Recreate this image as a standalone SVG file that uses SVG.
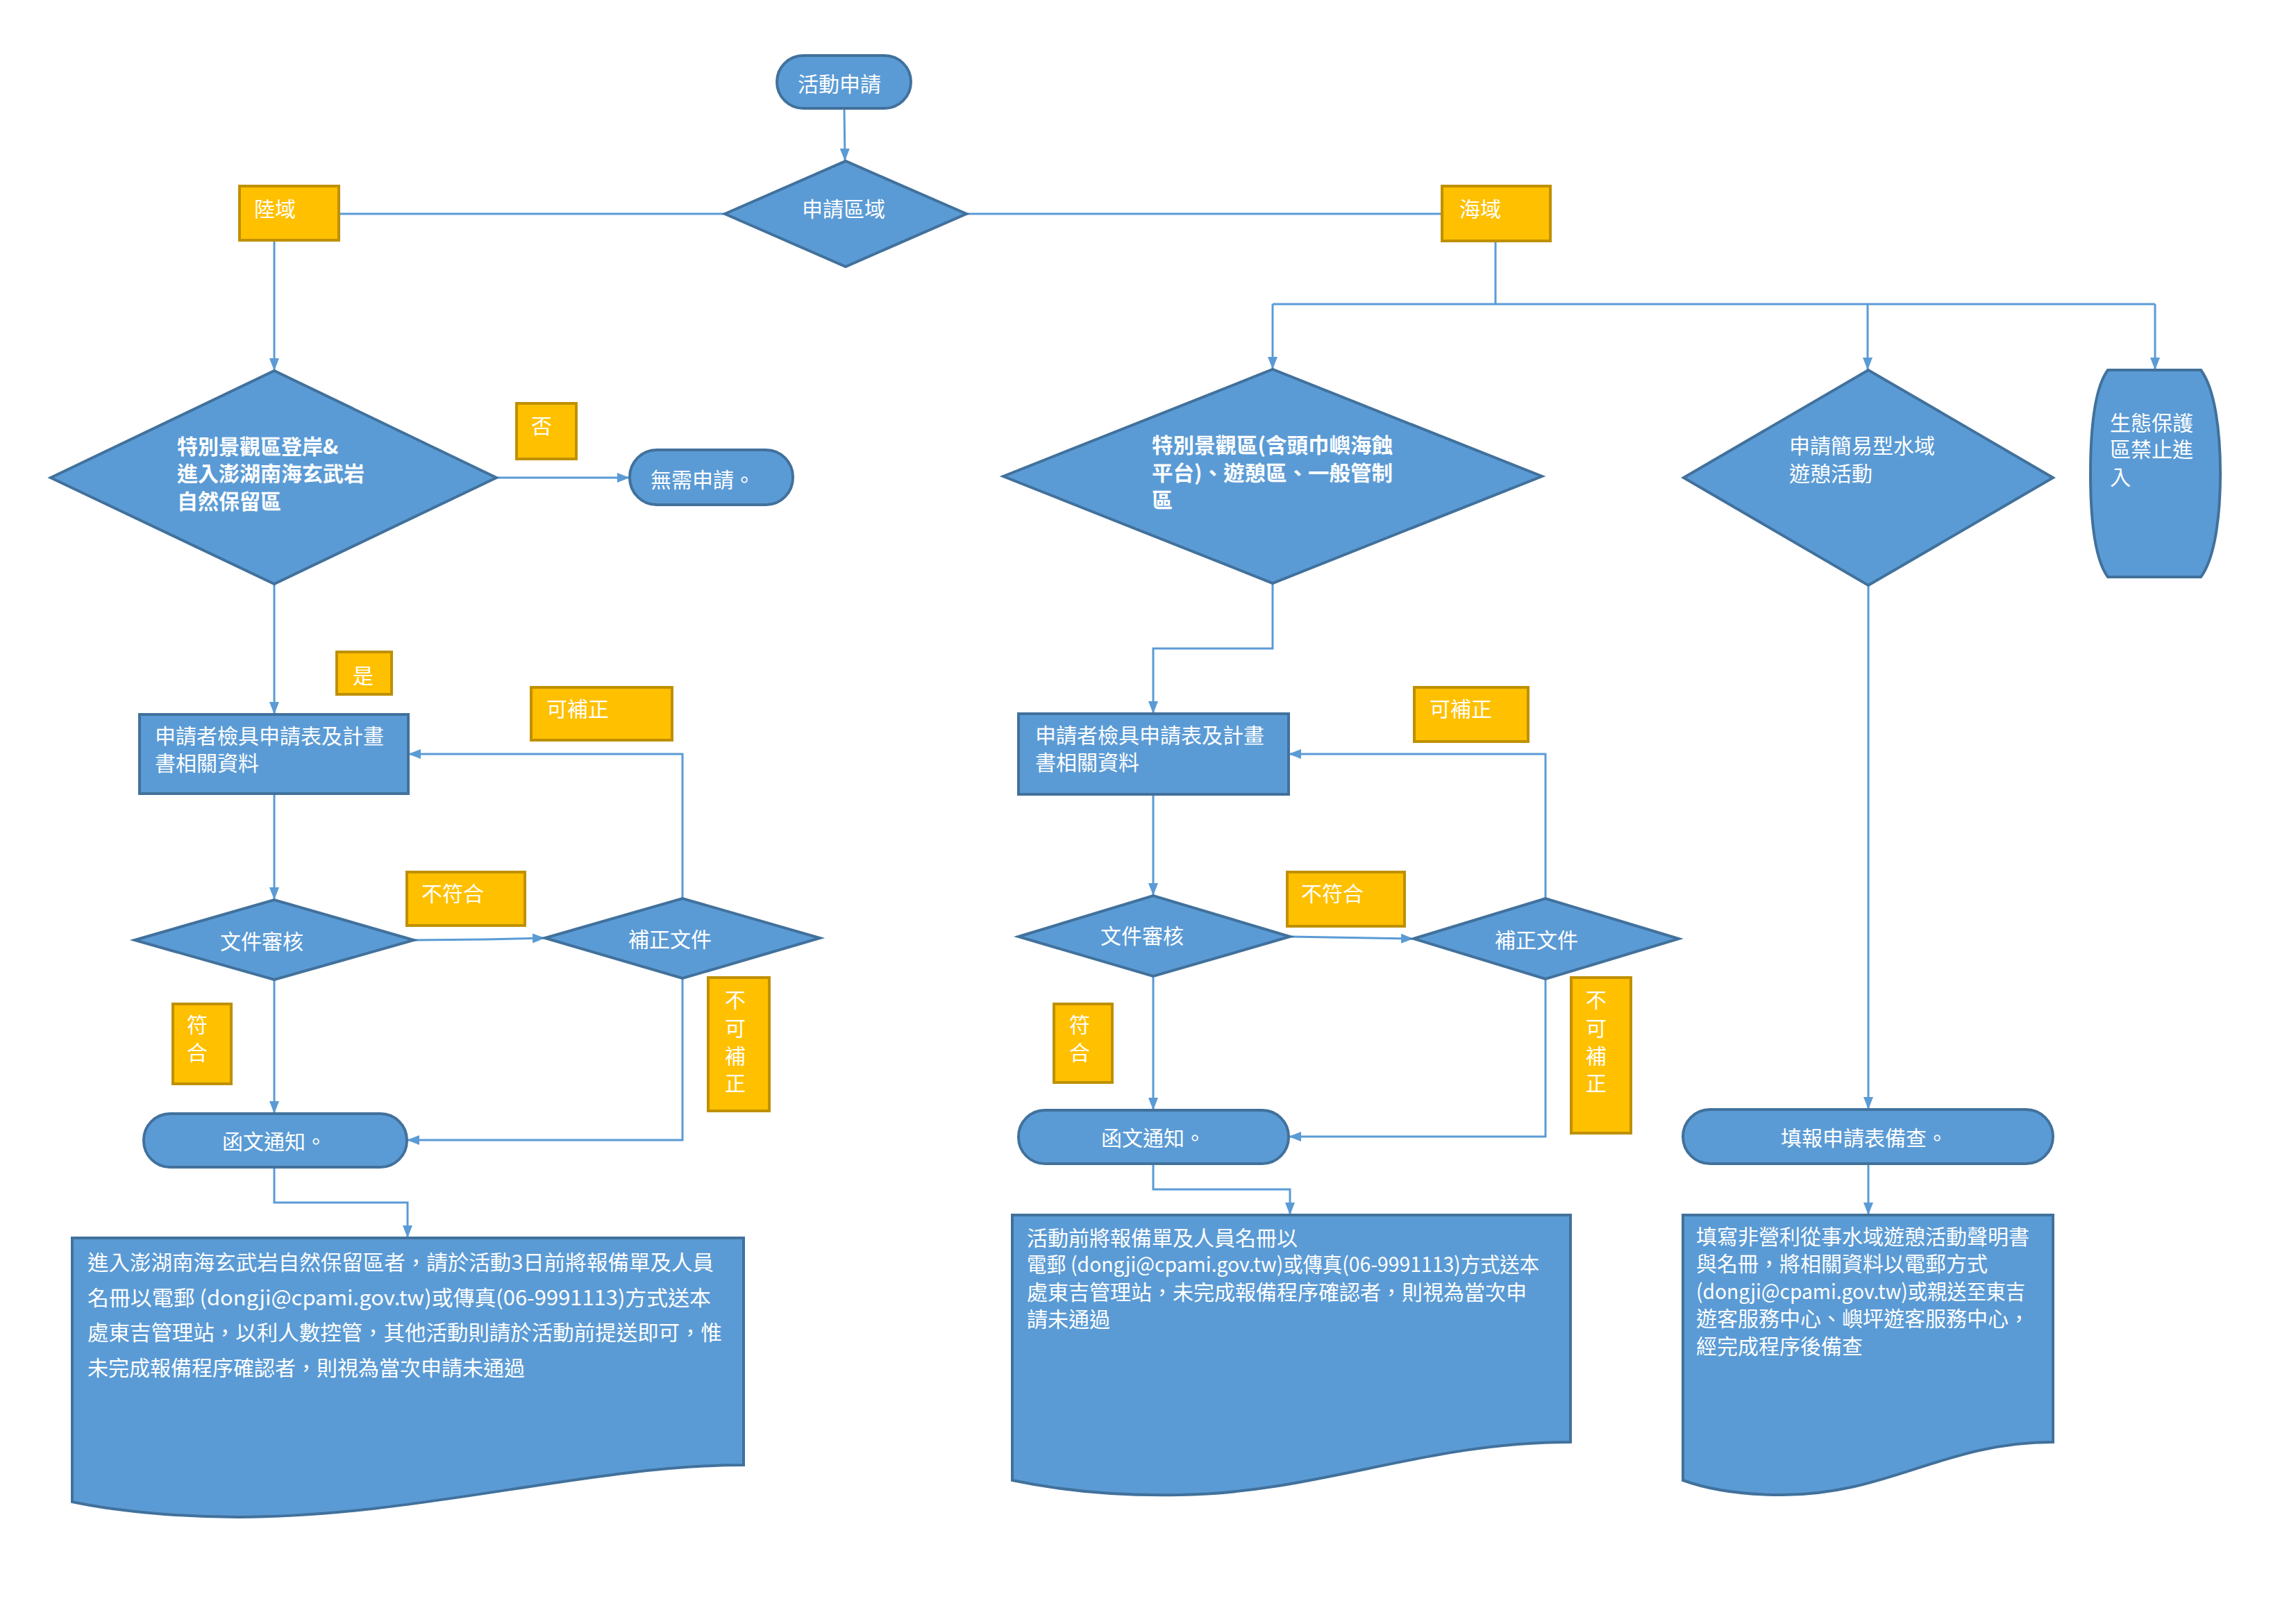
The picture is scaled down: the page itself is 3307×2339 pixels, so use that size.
<svg xmlns="http://www.w3.org/2000/svg" width="3307" height="2339" viewBox="0 0 3307 2339">
<style>
text{font-family:"Noto Sans CJK TC","Noto Sans",sans-serif;fill:#FFFFFF;font-size:30px}
.b{font-weight:bold}
.node{fill:#5B9BD5;stroke:#41719C;stroke-width:4}
.lab{fill:#FFC000;stroke:#BF9000;stroke-width:4}
.c{fill:none;stroke:#5B9BD5;stroke-width:3}
.ca{fill:none;stroke:#5B9BD5;stroke-width:3;marker-end:url(#ah)}
</style>
<defs>
<marker id="ah" markerUnits="userSpaceOnUse" markerWidth="18" markerHeight="14" refX="18" refY="7" orient="auto">
<path d="M0,0 L18,7 L0,14 z" fill="#5B9BD5"/>
</marker>
</defs>
<rect width="3307" height="2339" fill="#FFFFFF"/>
<g id="connectors">
<path class="ca" d="M1216,156 L1217,232"/>
<path class="c" d="M488,308 L1044,308"/>
<path class="c" d="M1392,308 L2077,308"/>
<path class="ca" d="M395,346 V534"/>
<path class="c" d="M2154,347 V438"/>
<path class="c" d="M1833,438 H3104"/>
<path class="ca" d="M1833,438 V532"/>
<path class="ca" d="M2690,438 V533"/>
<path class="ca" d="M3104,438 V533"/>
<path class="ca" d="M715,688 L907,688"/>
<path class="ca" d="M395,841 V1029"/>
<path class="ca" d="M395,1143 V1296"/>
<path class="ca" d="M596,1354 L700,1353 L785,1351"/>
<path class="ca" d="M983,1294 V1086 H588"/>
<path class="ca" d="M395,1411 V1604"/>
<path class="ca" d="M983,1409 V1642 H586"/>
<path class="ca" d="M395,1681 V1732 H587 V1783"/>
<path class="ca" d="M1833,840 V934 H1661 V1028"/>
<path class="ca" d="M1661,1144 V1290"/>
<path class="ca" d="M1858,1349 L2036,1352"/>
<path class="ca" d="M2226,1294 V1086 H1856"/>
<path class="ca" d="M1661,1406 V1599"/>
<path class="ca" d="M2226,1410 V1637 H1856"/>
<path class="ca" d="M1661,1676 V1713 H1858 V1750"/>
<path class="ca" d="M2691,843 V1598"/>
<path class="ca" d="M2691,1676 V1750"/>
</g>
<g id="start">
<rect class="node" x="1119" y="80" width="193" height="76" rx="38"/>
<text x="1149" y="132">活動申請</text>
</g>
<g id="area">
<polygon class="node" points="1044,308 1218,232 1392,308 1218,384"/>
<text x="1155" y="312">申請區域</text>
</g>
<g id="lab-land">
<rect class="lab" x="345" y="268" width="143" height="78"/>
<text x="366" y="312">陸域</text>
</g>
<g id="lab-sea">
<rect class="lab" x="2077" y="268" width="156" height="79"/>
<text x="2102" y="312">海域</text>
</g>
<g id="d-land">
<polygon class="node" points="73,688 395,534 715,688 395,841"/>
<text class="b" x="255" y="654">特別景觀區登岸&amp;</text>
<text class="b" x="255" y="693">進入澎湖南海玄武岩</text>
<text class="b" x="255" y="733">自然保留區</text>
</g>
<g id="lab-no">
<rect class="lab" x="744" y="581" width="86" height="80"/>
<text x="765" y="624">否</text>
</g>
<g id="no-need">
<rect class="node" x="907" y="648" width="235" height="79" rx="39"/>
<text x="937" y="702">無需申請。</text>
</g>
<g id="d-sea">
<polygon class="node" points="1445,686 1833,532 2221,686 1833,840"/>
<text class="b" x="1659" y="652" textLength="347" lengthAdjust="spacingAndGlyphs">特別景觀區(含頭巾嶼海蝕</text>
<text class="b" x="1659" y="692" textLength="347" lengthAdjust="spacingAndGlyphs">平台)、遊憩區、一般管制</text>
<text class="b" x="1659" y="731">區</text>
</g>
<g id="d-water">
<polygon class="node" points="2425,688 2691,533 2957,688 2691,843"/>
<text x="2577" y="653">申請簡易型水域</text>
<text x="2577" y="693">遊憩活動</text>
</g>
<g id="eco">
<path class="node" d="M3036,533 L3170,533 C3190,560 3198,620 3198,682 C3198,744 3190,804 3170,831 L3036,831 C3016,804 3011,744 3011,682 C3011,620 3016,560 3036,533 Z"/>
<text x="3039" y="620">生態保護</text>
<text x="3039" y="658">區禁止進</text>
<text x="3039" y="698">入</text>
</g>
<g id="lab-yes">
<rect class="lab" x="485" y="939" width="79" height="61"/>
<text x="508" y="984">是</text>
</g>
<g id="box1">
<rect class="node" x="201" y="1029" width="387" height="114"/>
<text x="223" y="1071">申請者檢具申請表及計畫</text>
<text x="223" y="1110">書相關資料</text>
</g>
<g id="lab-fix1">
<rect class="lab" x="765" y="990" width="203" height="76"/>
<text x="787" y="1032">可補正</text>
</g>
<g id="review1">
<polygon class="node" points="194,1354 395,1296 596,1354 395,1411"/>
<text x="317" y="1367">文件審核</text>
</g>
<g id="lab-notok1">
<rect class="lab" x="586" y="1256" width="170" height="77"/>
<text x="607" y="1298">不符合</text>
</g>
<g id="fixdoc1">
<polygon class="node" points="785,1351 983,1294 1181,1351 983,1409"/>
<text x="905" y="1364">補正文件</text>
</g>
<g id="lab-ok1">
<rect class="lab" x="249" y="1446" width="84" height="115"/>
<text x="269" y="1487">符</text>
<text x="269" y="1527">合</text>
</g>
<g id="lab-nofix1">
<rect class="lab" x="1020" y="1408" width="88" height="192"/>
<text x="1044" y="1451">不</text>
<text x="1044" y="1492">可</text>
<text x="1044" y="1532">補</text>
<text x="1044" y="1571">正</text>
</g>
<g id="notice1">
<rect class="node" x="207" y="1604" width="379" height="77" rx="38"/>
<text x="320" y="1655">函文通知。</text>
</g>
<g id="doc1">
<path class="node" d="M104,1783 H1071 V2110 C850,2110 600,2185 343,2185 C250,2185 160,2175 104,2163 Z"/>
<text x="126" y="1829" textLength="902" lengthAdjust="spacingAndGlyphs">進入澎湖南海玄武岩自然保留區者，請於活動3日前將報備單及人員</text>
<text x="126" y="1880" textLength="898" lengthAdjust="spacingAndGlyphs">名冊以電郵 (dongji@cpami.gov.tw)或傳真(06-9991113)方式送本</text>
<text x="126" y="1930" textLength="914" lengthAdjust="spacingAndGlyphs">處東吉管理站，以利人數控管，其他活動則請於活動前提送即可，惟</text>
<text x="126" y="1981">未完成報備程序確認者，則視為當次申請未通過</text>
</g>
<g id="box2">
<rect class="node" x="1467" y="1028" width="389" height="116"/>
<text x="1491" y="1070">申請者檢具申請表及計畫</text>
<text x="1491" y="1109">書相關資料</text>
</g>
<g id="lab-fix2">
<rect class="lab" x="2037" y="990" width="164" height="78"/>
<text x="2059" y="1032">可補正</text>
</g>
<g id="review2">
<polygon class="node" points="1467,1349 1661,1290 1858,1349 1661,1406"/>
<text x="1585" y="1359">文件審核</text>
</g>
<g id="lab-notok2">
<rect class="lab" x="1854" y="1256" width="169" height="78"/>
<text x="1874" y="1298">不符合</text>
</g>
<g id="fixdoc2">
<polygon class="node" points="2036,1352 2226,1294 2418,1352 2226,1410"/>
<text x="2153" y="1365">補正文件</text>
</g>
<g id="lab-ok2">
<rect class="lab" x="1518" y="1446" width="84" height="113"/>
<text x="1540" y="1487">符</text>
<text x="1540" y="1527">合</text>
</g>
<g id="lab-nofix2">
<rect class="lab" x="2263" y="1408" width="86" height="224"/>
<text x="2284" y="1451">不</text>
<text x="2284" y="1492">可</text>
<text x="2284" y="1532">補</text>
<text x="2284" y="1571">正</text>
</g>
<g id="notice2">
<rect class="node" x="1467" y="1599" width="389" height="77" rx="38"/>
<text x="1586" y="1650">函文通知。</text>
</g>
<g id="doc2">
<path class="node" d="M1458,1750 H2262 V2077 C2050,2077 1900,2150 1700,2153 C1600,2155 1520,2145 1458,2132 Z"/>
<text x="1479" y="1794">活動前將報備單及人員名冊以</text>
<text x="1479" y="1832" textLength="738" lengthAdjust="spacingAndGlyphs">電郵 (dongji@cpami.gov.tw)或傳真(06-9991113)方式送本</text>
<text x="1479" y="1872">處東吉管理站，未完成報備程序確認者，則視為當次申</text>
<text x="1479" y="1911">請未通過</text>
</g>
<g id="fill-form">
<rect class="node" x="2424" y="1598" width="533" height="78" rx="39"/>
<text x="2565" y="1650">填報申請表備查。</text>
</g>
<g id="doc3">
<path class="node" d="M2424,1750 H2957 V2077 C2800,2077 2720,2153 2567,2153 C2510,2153 2460,2145 2424,2132 Z"/>
<text x="2443" y="1792">填寫非營利從事水域遊憩活動聲明書</text>
<text x="2443" y="1831">與名冊，將相關資料以電郵方式</text>
<text x="2443" y="1871" textLength="474" lengthAdjust="spacingAndGlyphs">(dongji@cpami.gov.tw)或親送至東吉</text>
<text x="2443" y="1910">遊客服務中心、嶼坪遊客服務中心，</text>
<text x="2443" y="1950">經完成程序後備查</text>
</g>
</svg>
